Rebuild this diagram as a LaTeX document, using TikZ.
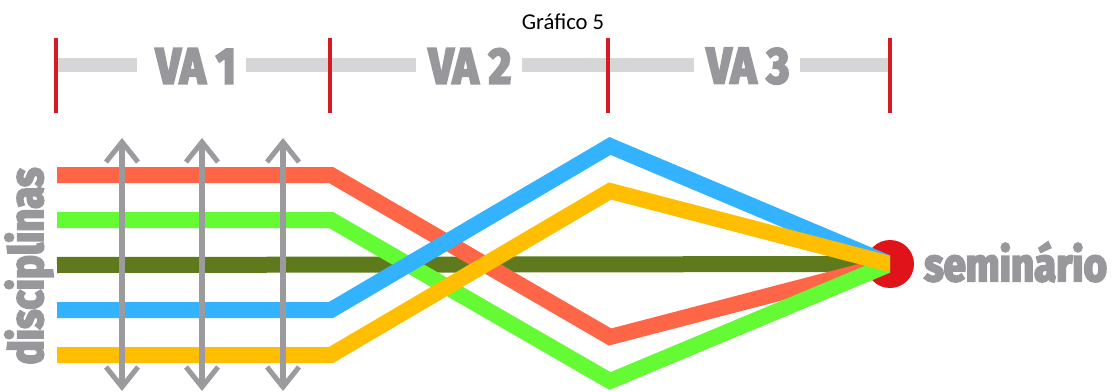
\documentclass[tikz,border=0pt]{standalone}
\usepackage{fontspec}
\setmainfont{Fira Sans}
\newfontfamily\labelfont[FakeStretch=0.86, BoldFeatures={FakeBold=4.5}]{Fira Sans}
\newfontfamily\titlefont{Carlito}
\usetikzlibrary{arrows.meta}

\definecolor{bargray}{HTML}{D6D6D8}
\definecolor{txtgray}{HTML}{98989C}
\definecolor{tickred}{HTML}{D41C24}
\definecolor{arrgray}{HTML}{9B9B9F}
\definecolor{dotred}{HTML}{E0131A}
\definecolor{cRed}{HTML}{FF6547}
\definecolor{cGreen}{HTML}{64FA34}
\definecolor{cOlive}{HTML}{5E7A1C}
\definecolor{cBlue}{HTML}{33B3FF}
\definecolor{cOrange}{HTML}{FFBE00}

\tikzset{
  bar/.style={draw=bargray, line width=11pt},
  tick/.style={draw=tickred, line width=2.3pt},
  valabel/.style={text=txtgray, font=\labelfont\bfseries\fontsize{38}{38}\selectfont, inner sep=0pt},
  discline/.style={line width=12pt, line join=miter},
  linkarrow/.style={draw=arrgray, line width=3.8pt,
    {Straight Barb[length=15pt, width=24pt, line width=3.8pt]}-{Straight Barb[length=15pt, width=24pt, line width=3.8pt]}},
  sidelabel/.style={text=txtgray, font=\labelfont\bfseries\fontsize{35}{35}\selectfont, inner sep=0pt},
}

\begin{document}
\begin{tikzpicture}[x=0.75pt, y=-0.75pt]
\useasboundingbox (0,0) rectangle (1116,392);

% title
\node[font=\titlefont\fontsize{17}{17}\selectfont, inner sep=0pt] (title) at (563,22) {Gráfico 5};

% stage ruler
\foreach \n/\x in {t0/56, t1/330, t2/608, t3/890}
  \coordinate (\n) at (\x,65);
\node[valabel] (va1) at (196,66) {VA 1};
\node[valabel] (va2) at (470,66) {VA 2};
\node[valabel] (va3) at (748,66) {VA 3};
\draw[bar] (t0) -- (137,65);
\draw[bar] (246,65) -- (t1) -- (416,65);
\draw[bar] (522,65) -- (t2) -- (694,65);
\draw[bar] (800,65) -- (t3);
\foreach \n in {t0,t1,t2,t3}
  \draw[tick] ([yshift=20pt]\n) -- ([yshift=-36pt]\n);

% seminar point
\coordinate (sem) at (890,264);
\fill[dotred] (sem) circle[radius=18pt];
\node[sidelabel, anchor=west] (semlabel) at (924,262) {seminário};

% disciplines
\node[sidelabel, rotate=90] (disc) at (29,266) {disciplinas};

\begin{scope}
  \clip (0,0) rectangle (890,392);
  \draw[discline, cOlive] (57,265) -- (sem);
  \draw[discline, cRed] (57,175) -- (331,175) -- (610,337) -- (sem);
  \draw[discline, cGreen] (57,220) -- (331,220) -- (610,381) -- (sem);
  \draw[discline, cBlue] (57,310) -- (331,310) -- (610,146) -- (sem);
  \draw[discline, cOrange] (57,355) -- (331,355) -- (610,191) -- (sem);
\end{scope}

% links between disciplines
\foreach \n/\x in {a/122, b/202, c/283} {
  \coordinate (\n top) at (\x,138);
  \coordinate (\n bot) at (\x,391);
  \draw[linkarrow] (\n top) -- (\n bot);
}
\end{tikzpicture}
\end{document}
